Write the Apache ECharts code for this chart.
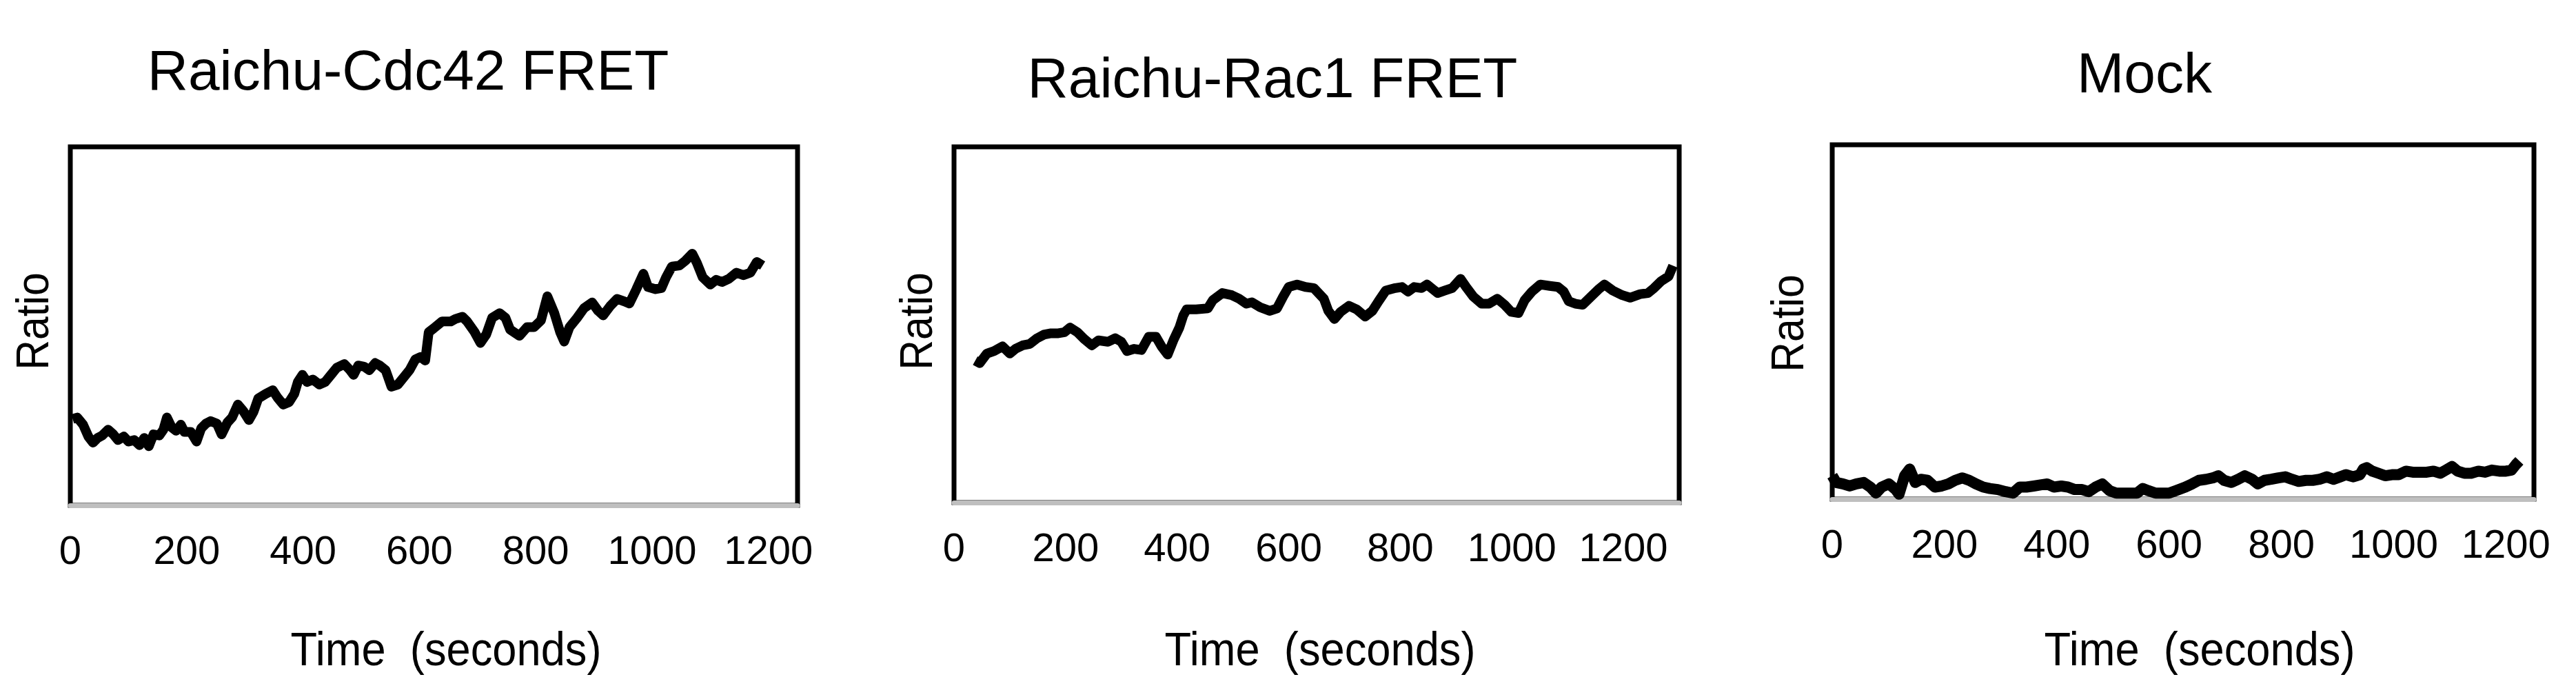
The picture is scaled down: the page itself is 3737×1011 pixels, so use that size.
<!DOCTYPE html>
<html>
<head>
<meta charset="utf-8">
<script src="https://cdn.jsdelivr.net/npm/echarts@6/dist/echarts.min.js"></script>
<style>
  html, body { margin: 0; padding: 0; background: #fff; }
  #chart { width: 3737px; height: 1011px; }
</style>
</head>
<body>
<div id="chart"></div>
<script>
// panel titles and axis tick labels
const panelTitles = ['Raichu-Cdc42 FRET', 'Raichu-Rac1 FRET', 'Mock'];
const xTicks = [0, 200, 400, 600, 800, 1000, 1200];
const xMax = [1250, 1300, 1250];

// Raichu-Cdc42 trace (time in s, ratio in % of the plot range)
const cdc42Time = [4, 12, 22, 31, 39, 47, 55, 65, 74, 82, 92, 100, 110, 119, 127, 135, 143, 153, 160, 166,
  174, 182, 190, 196, 207, 217, 225, 233, 241, 252, 260, 270, 278, 288, 297, 307, 315, 323, 336, 348,
  356, 366, 376, 385, 391, 399, 407, 417, 428, 438, 448, 458, 471, 481, 487, 495, 505, 514, 524, 532,
  542, 552, 563, 573, 583, 593, 602, 610, 616, 624, 639, 654, 662, 674, 682, 695, 705, 715, 725, 738,
  748, 756, 772, 785, 797, 809, 820, 832, 842, 849, 858, 871, 883, 897, 907, 916, 928, 940, 952, 961,
  973, 985, 993, 1006, 1016, 1024, 1034, 1047, 1057, 1069, 1077, 1087, 1100, 1110, 1120, 1132, 1145, 1157, 1169, 1180, 1190];
const cdc42Ratio = [24.1, 24.5, 22.5, 19.2, 17.5, 18.8, 19.5, 21.1, 19.8, 18.2, 19.2, 17.8, 18.2, 16.8, 18.8, 16.5, 19.8, 19.5, 21.1, 24.5,
  21.8, 20.8, 22.5, 20.5, 20.5, 17.8, 21.5, 22.8, 23.5, 22.8, 19.8, 23.1, 24.5, 28.1, 26.4, 23.8, 26.1, 29.8, 31.1, 32.1,
  30.1, 28.1, 28.8, 31.1, 34.4, 36.4, 34.4, 35.1, 33.7, 34.4, 36.4, 38.4, 39.4, 37.7, 36.4, 39.0, 38.7, 37.7, 39.7, 39.0,
  37.7, 33.1, 33.7, 35.7, 37.7, 40.7, 41.4, 40.4, 48.3, 49.3, 51.3, 51.3, 52.0, 52.6, 51.3, 48.3, 45.3, 47.7, 52.3, 53.6,
  52.3, 49.0, 47.3, 49.7, 49.7, 51.6, 58.3, 53.6, 48.3, 45.7, 49.7, 52.3, 55.0, 56.6, 54.3, 53.0, 55.6, 57.6, 56.9, 56.3,
  60.3, 64.6, 60.9, 60.3, 60.6, 63.6, 66.6, 66.9, 68.2, 70.2, 67.6, 63.6, 61.6, 62.9, 62.3, 63.2, 64.9, 64.2, 64.9, 67.9, 66.9];

// Raichu-Rac1 trace
const rac1Time = [38, 46, 59, 72, 87, 100, 110, 123, 136, 149, 161, 174, 187, 198, 208, 221, 234, 247, 259, 276,
  289, 300, 310, 323, 336, 349, 362, 372, 383, 394, 404, 411, 417, 434, 455, 464, 481, 498, 511, 524,
  534, 549, 566, 579, 590, 600, 615, 630, 645, 663, 671, 682, 693, 708, 722, 737, 750, 761, 774, 791,
  803, 814, 825, 838, 848, 859, 867, 880, 893, 908, 918, 931, 946, 959, 974, 987, 999, 1012, 1023, 1036,
  1051, 1068, 1083, 1093, 1102, 1114, 1127, 1140, 1155, 1166, 1181, 1198, 1212, 1230, 1244, 1255, 1268, 1281, 1289];
const rac1Ratio = [39.9, 39.2, 41.9, 42.6, 43.9, 41.9, 43.2, 44.2, 44.6, 46.2, 47.2, 47.6, 47.6, 47.9, 49.2, 47.9, 45.9, 44.2, 45.6, 45.2,
  46.2, 45.2, 42.6, 43.2, 42.9, 46.6, 46.6, 43.9, 41.6, 45.9, 49.2, 52.6, 54.3, 54.3, 54.6, 56.9, 58.9, 58.3, 57.3, 55.9,
  56.3, 54.9, 53.9, 54.6, 57.9, 60.6, 61.3, 60.6, 60.3, 57.3, 53.9, 51.6, 53.6, 55.3, 54.3, 52.3, 53.9, 56.6, 59.6, 60.3,
  60.6, 59.3, 60.6, 60.3, 61.3, 59.9, 58.9, 59.6, 60.3, 62.9, 60.6, 57.9, 55.9, 55.9, 57.3, 55.6, 53.6, 53.3, 56.9, 59.3,
  61.3, 60.9, 60.6, 59.3, 56.6, 55.9, 55.6, 57.6, 59.9, 61.3, 59.6, 58.3, 57.6, 58.6, 58.9, 60.3, 62.3, 63.6, 66.6];

// Mock trace
const mockTime = [0, 7, 19, 31, 43, 56, 68, 78, 88, 101, 113, 119, 129, 138, 148, 158, 170, 183, 195, 207,
  219, 232, 244, 256, 269, 281, 295, 309, 322, 334, 346, 359, 371, 383, 395, 408, 420, 432, 445, 457,
  469, 481, 494, 506, 518, 531, 543, 553, 563, 576, 588, 600, 612, 629, 641, 653, 666, 678, 688, 698,
  711, 723, 735, 748, 758, 770, 782, 795, 807, 819, 831, 844, 856, 868, 881, 893, 905, 915, 928, 940,
  946, 952, 962, 973, 985, 997, 1009, 1022, 1034, 1046, 1059, 1071, 1083, 1093, 1104, 1114, 1126, 1138, 1151, 1163,
  1175, 1188, 1200, 1210, 1218, 1224];
const mockRatio = [6.6, 4.7, 4.3, 3.7, 4.3, 4.7, 3.4, 1.7, 3.4, 4.3, 2.7, 1.4, 6.6, 8.5, 4.7, 5.6, 5.3, 3.4, 3.7, 4.3,
  5.3, 6.0, 5.3, 4.3, 3.4, 3.0, 2.7, 2.1, 1.7, 3.4, 3.4, 3.7, 4.0, 4.3, 3.4, 3.7, 3.4, 2.7, 2.7, 2.1,
  3.4, 4.3, 2.4, 1.7, 1.7, 1.7, 1.7, 3.0, 2.4, 1.7, 1.7, 1.7, 2.4, 3.4, 4.3, 5.3, 5.6, 6.0, 6.6, 5.3,
  4.7, 5.6, 6.6, 5.6, 4.3, 5.3, 5.6, 6.0, 6.3, 5.6, 5.0, 5.3, 5.3, 5.6, 6.3, 5.6, 6.3, 6.9, 6.3, 6.9,
  8.5, 8.9, 7.9, 7.3, 6.6, 6.9, 6.9, 7.9, 7.6, 7.6, 7.6, 7.9, 7.3, 8.2, 9.2, 7.9, 7.3, 7.3, 7.9, 7.6,
  8.2, 7.9, 7.9, 8.2, 9.8, 10.8];

const FONT = '"Liberation Sans", Arial, sans-serif';

const zip = (xs, ys) => xs.map((x, i) => [x, ys[i]]);
const traces = [zip(cdc42Time, cdc42Ratio), zip(rac1Time, rac1Ratio), zip(mockTime, mockRatio)];

// plot boxes in page pixels
const boxes = [
  { left: 102, top: 213, width: 1055, height: 520 },
  { left: 1384, top: 213, width: 1052, height: 516 },
  { left: 2658, top: 210, width: 1018, height: 514 }
];
// text anchors: title, y name, x name
const titlePos = [[592, 107], [1846, 118], [3111, 111]];
const ratioPos = [[52, 466], [1334, 466], [2598, 469]];
const timePos = [[647, 946], [1915, 946], [3191, 946]];

const grids = boxes.map(b => ({
  left: b.left, top: b.top, width: b.width, height: b.height,
  show: true, borderColor: '#000', borderWidth: 7, backgroundColor: '#fff'
}));

const xAxes = boxes.map((b, i) => ({
  type: 'value', gridIndex: i, min: 0, max: xMax[i], interval: 200,
  axisLine: { show: true, lineStyle: { color: '#BFBFBF', width: 7 } },
  axisTick: { show: false },
  splitLine: { show: false },
  axisLabel: {
    color: '#000', fontSize: 58, fontFamily: FONT, margin: 40,
    formatter: v => (xTicks.indexOf(v) >= 0 ? String(v) : '')
  }
}));

const yAxes = boxes.map((b, i) => ({
  type: 'value', gridIndex: i, min: 0, max: 100,
  axisLine: { show: false }, axisTick: { show: false },
  axisLabel: { show: false }, splitLine: { show: false }
}));

const series = traces.map((d, i) => ({
  type: 'line', xAxisIndex: i, yAxisIndex: i, data: d,
  symbol: 'none', smooth: false,
  lineStyle: { color: '#000', width: i === 2 ? 16 : 14, join: 'round' }
}));

// text drawn slightly condensed, like the original figure
const textEl = (x, y, text, size, rot, sx) => ({
  type: 'text', x: x, y: y, rotation: rot || 0, scaleX: sx || 1, z: 10,
  style: {
    text: text, font: size + 'px ' + FONT, fill: '#000',
    align: 'center', verticalAlign: 'middle',
    textAlign: 'center', textVerticalAlign: 'middle'
  }
});

const graphics = [];
panelTitles.forEach((t, i) => {
  graphics.push(textEl(titlePos[i][0], titlePos[i][1], t, 82));
  graphics.push(textEl(ratioPos[i][0], ratioPos[i][1], 'Ratio', 66, Math.PI / 2, 0.92));
  graphics.push(textEl(timePos[i][0], timePos[i][1], 'Time  (seconds)', 68, 0, 0.93));
});

const chart = echarts.init(document.getElementById('chart'));
chart.setOption({
  animation: false,
  backgroundColor: '#fff',
  grid: grids,
  xAxis: xAxes,
  yAxis: yAxes,
  series: series,
  graphic: graphics
});
</script>
</body>
</html>
